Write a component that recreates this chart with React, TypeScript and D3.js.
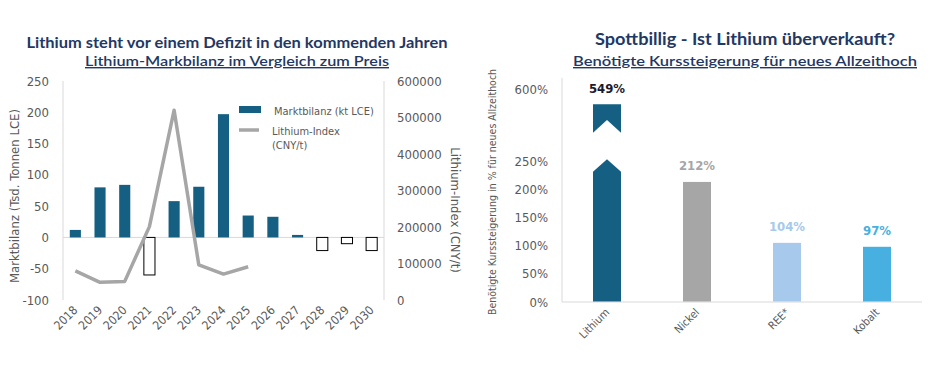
import React from "react";
import * as d3 from "d3";

const years = ["2018","2019","2020","2021","2022","2023","2024","2025","2026","2027","2028","2029","2030"];
const balance = [12, 80, 84, -60, 58, 81, 197, 35, 33, 4, -21, -10, -21];
const lithiumIndex = [80000, 48500, 51000, 201000, 520000, 96000, 71000, 91000];
const leftTicks = [-100, -50, 0, 50, 100, 150, 200, 250];
const rightTicks = [0, 100000, 200000, 300000, 400000, 500000, 600000];

const metals = ["Lithium", "Nickel", "REE*", "Kobalt"];
const increase = [549, 212, 104, 97];
const metalColors = ["#156082", "#a6a6a6", "#a6c9ec", "#47b0e0"];
const labelColors = ["#1a1a2e", "#a6a6a6", "#a6c9ec", "#47b0e0"];
const pctTicks = [0, 50, 100, 150, 200, 250, 600];

const NAVY = "#1f3864";
const GRAY = "#595959";
const FONT = "'Liberation Sans Narrow', 'DejaVu Sans Condensed', 'Roboto', sans-serif";
const TFONT = "'Lato', 'Open Sans', sans-serif";

export default function App() {
  // Left chart
  const xL = d3.scaleBand<string>().domain(years).range([63, 384]).padding(0);
  const step = xL.step();
  const bw = step * 0.45;
  const cx = (d: string) => (xL(d) as number) + step / 2;
  const yL = d3.scaleLinear().domain([-100, 250]).range([300, 81]);
  const yR = d3.scaleLinear().domain([0, 600000]).range([300, 81]);
  const line = d3
    .line<number>()
    .x((_, i) => cx(years[i]))
    .y((v) => yR(v));

  // Right chart
  const xM = d3.scaleBand<string>().domain(metals).range([562, 922]).padding(0);
  const mstep = xM.step();
  const mbw = 28;
  const mcx = (d: string) => (xM(d) as number) + mstep / 2;
  const yP = d3.scaleLinear().domain([0, 250, 549, 600]).range([301.5, 160.5, 104.3, 89]);

  const lx = mcx("Lithium");
  const l0 = lx - mbw / 2;
  const l1 = lx + mbw / 2;
  const lowerShoulder = yP(230);
  const lowerTip = yP(256);
  const upTop = yP(increase[0]);
  const upShoulder = upTop + 28.4;
  const upNotch = upTop + 15.7;
  const lowerPath = `M${l0},${yP(0)} L${l0},${lowerShoulder} L${lx},${lowerTip} L${l1},${lowerShoulder} L${l1},${yP(0)} Z`;
  const upperPath = `M${l0},${upTop} L${l1},${upTop} L${l1},${upShoulder} L${lx},${upNotch} L${l0},${upShoulder} Z`;

  return (
    <svg width={945} height={379} style={{ position: "absolute", left: 0, top: 0, background: "#fff" }} fontFamily={FONT}>
      {/* Left titles */}
      <text x={237} y={48} textAnchor="middle" fontFamily={TFONT} fontWeight={700} fontSize={15} fill={NAVY} textLength={421} lengthAdjust="spacingAndGlyphs">
        Lithium steht vor einem Defizit in den kommenden Jahren
      </text>
      <text x={237} y={66} textAnchor="middle" fontFamily={TFONT} fontWeight={600} fontSize={14} fill={NAVY} textLength={304} lengthAdjust="spacingAndGlyphs" textDecoration="underline">
        Lithium-Markbilanz im Vergleich zum Preis
      </text>

      {/* Left axes */}
      <line x1={63} x2={63} y1={81} y2={300} stroke="#d9d9d9" />
      <line x1={384} x2={384} y1={81} y2={300} stroke="#d9d9d9" />
      <line x1={63} x2={384} y1={yL(0)} y2={yL(0)} stroke="#d9d9d9" />
      {leftTicks.map((t) => (
        <text key={t} x={49} y={yL(t) + 4.5} textAnchor="end" fontSize={13} fill={GRAY}>{t}</text>
      ))}
      {rightTicks.map((t) => (
        <text key={t} x={397} y={yR(t) + 4.5} textAnchor="start" fontSize={13} fill={GRAY}>{t}</text>
      ))}
      <text transform={`translate(19,196) rotate(-90)`} textAnchor="middle" fontSize={13} fill={GRAY}>Marktbilanz (Tsd. Tonnen LCE)</text>
      <text transform={`translate(451,210) rotate(90)`} textAnchor="middle" fontSize={13} fill={GRAY}>Lithium-Index (CNY/t)</text>

      {/* Bars */}
      {balance.map((v, i) => {
        const x = cx(years[i]) - bw / 2;
        const y0 = yL(0);
        const y1 = yL(v);
        return v >= 0 ? (
          <rect key={years[i]} x={x} y={y1} width={bw} height={y0 - y1} fill="#156082" />
        ) : (
          <rect key={years[i]} x={x} y={y0} width={bw} height={y1 - y0} fill="#fff" stroke="#000" strokeWidth={1} />
        );
      })}
      <path d={line(lithiumIndex) as string} fill="none" stroke="#a6a6a6" strokeWidth={3.5} strokeLinejoin="round" />

      {/* X labels left */}
      {years.map((y) => (
        <text key={y} transform={`translate(${cx(y) + 3},${311}) rotate(-45)`} textAnchor="end" fontSize={12} fill={GRAY}>{y}</text>
      ))}

      {/* Legend */}
      <rect x={239} y={106} width={22} height={7} fill="#156082" />
      <text x={274} y={115} fontSize={11} fill={GRAY}>Marktbilanz (kt LCE)</text>
      <line x1={239} x2={259} y1={130} y2={130} stroke="#a6a6a6" strokeWidth={3.5} />
      <text x={272} y={135} fontSize={11} fill={GRAY}>Lithium-Index</text>
      <text x={272} y={149} fontSize={11} fill={GRAY}>(CNY/t)</text>

      {/* Right titles */}
      <text x={745} y={45} textAnchor="middle" fontFamily={TFONT} fontWeight={700} fontSize={17} fill={NAVY} textLength={300} lengthAdjust="spacingAndGlyphs">
        Spottbillig - Ist Lithium überverkauft?
      </text>
      <text x={745} y={66} textAnchor="middle" fontFamily={TFONT} fontWeight={600} fontSize={14} fill={NAVY} textLength={344} lengthAdjust="spacingAndGlyphs" textDecoration="underline">
        Benötigte Kurssteigerung für neues Allzeithoch
      </text>

      {/* Right axes */}
      <line x1={562} x2={562} y1={78} y2={302} stroke="#d9d9d9" />
      <line x1={562} x2={922} y1={302} y2={302} stroke="#d9d9d9" />
      {pctTicks.map((t) => (
        <text key={t} x={548} y={yP(t) + 5} textAnchor="end" fontSize={13} fill={GRAY}>{t}%</text>
      ))}
      <text transform={`translate(496,192) rotate(-90)`} textAnchor="middle" fontSize={10.5} fill={GRAY}>Benötigte Kurssteigerung in % für neues Allzeithoch</text>

      {/* Right bars */}
      <path d={lowerPath} fill={metalColors[0]} />
      <path d={upperPath} fill={metalColors[0]} />
      <text x={lx} y={upTop - 11} textAnchor="middle" fontSize={13} fontWeight={700} fill={labelColors[0]}>{increase[0]}%</text>
      {metals.slice(1).map((m, j) => {
        const i = j + 1;
        const top = yP(increase[i]);
        return (
          <g key={m}>
            <rect x={mcx(m) - mbw / 2} y={top} width={mbw} height={yP(0) - top} fill={metalColors[i]} />
            <text x={mcx(m)} y={top - 12} textAnchor="middle" fontSize={13} fontWeight={700} fill={labelColors[i]}>{increase[i]}%</text>
          </g>
        );
      })}
      {metals.map((m) => (
        <text key={m} transform={`translate(${mcx(m) + 3},${313}) rotate(-45)`} textAnchor="end" fontSize={11} fill={GRAY}>{m}</text>
      ))}
    </svg>
  );
}
